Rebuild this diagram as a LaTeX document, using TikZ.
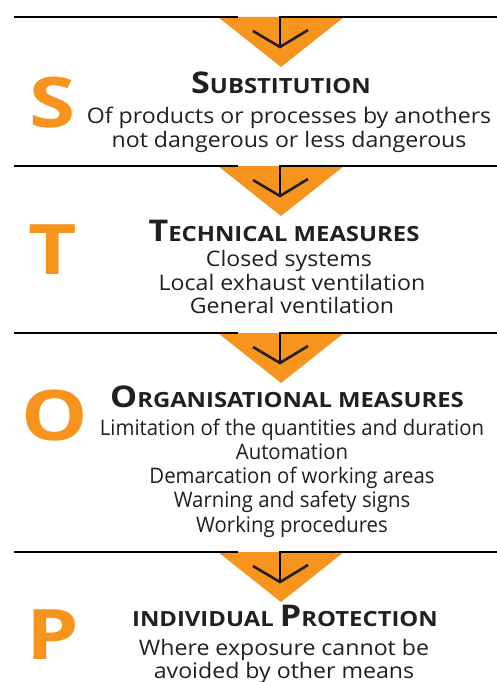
\documentclass[tikz,border=0pt]{standalone}
\usepackage{fontspec}
\setmainfont{Open Sans}
\newfontfamily\bodyfont[FakeStretch=1.08]{Open Sans}
\newfontfamily\obodyfont[FakeStretch=0.95]{Open Sans}
\newfontfamily\titlefont[FakeStretch=1.14]{Open Sans}
\newfontfamily\letterfont[FakeStretch=1.2]{Open Sans}
\definecolor{stoporange}{HTML}{F7941E}
\definecolor{stoptext}{HTML}{231F20}
\newcommand{\tcapbig}[1]{{\fontsize{30}{30}\selectfont #1}}
\newcommand{\tcapsmall}[1]{{\fontsize{21}{22}\selectfont #1}}
\tikzset{
  bodyline/.style={anchor=base, inner sep=0pt, text=stoptext, font=\bodyfont\fontsize{21.5}{23}\selectfont},
  obodyline/.style={anchor=base, inner sep=0pt, text=stoptext, font=\obodyfont\fontsize{21.5}{23}\selectfont},
  titleline/.style={anchor=base, inner sep=0pt, text=stoptext, font=\titlefont\bfseries},
  bigletter/.style={inner sep=0pt, text=stoporange, font=\letterfont\bfseries\fontsize{70}{70}\selectfont},
  rule/.style={line width=2.6bp, draw=black},
  chev/.style={line width=2.6bp, draw=stoptext},
  tri/.style={fill=stoporange, draw=none}
}
\begin{document}
\begin{tikzpicture}[x=1bp,y=-1bp]
\useasboundingbox (0,0) rectangle (497,682);
\fill[white] (0,0) rectangle (497,682);
% separators with arrows
\foreach \n/\y in {1/17,2/166,3/333,4/552}{
  \fill[tri] (218,\y) -- (344,\y) -- (281,\y+50) -- cycle;
  \coordinate (L\n a) at (14,\y);
  \coordinate (L\n b) at (238,\y);
  \coordinate (R\n a) at (497,\y);
  \coordinate (S\n) at (280,\y);
  \coordinate (T\n) at (280,\y+30);
  \coordinate (CL\n) at (253,\y+14);
  \coordinate (CR\n) at (308,\y+13);
  \draw[rule] (L\n a) -- (L\n b);
  \draw[rule] (R\n a) -- (S\n) -- (T\n);
  \draw[chev] (CL\n) -- (T\n) -- (CR\n);
}
% big letters
\node[bigletter] (bigS) at (53,103) {S};
\node[bigletter] (bigT) at (53,250) {T};
\node[bigletter] (bigO) at (55,416) {O};
\node[bigletter] (bigP) at (53,635) {P};
% S section
\node[titleline] (tS) at (281,94) {\tcapbig{S}\tcapsmall{UBSTITUTION}};
\node[bodyline] (s1) at (289,124) {Of products or processes by anothers};
\node[bodyline] (s2) at (289,147) {not dangerous or less dangerous};
% T section
\node[titleline] (tT) at (284,241) {\tcapbig{T}\tcapsmall{ECHNICAL MEASURES}};
\node[bodyline] (t1) at (289,266) {Closed systems};
\node[bodyline] (t2) at (292,290) {Local exhaust ventilation};
\node[bodyline] (t3) at (292,313) {General ventilation};
% O section
\node[titleline] (tO) at (287,407) {\tcapbig{O}\tcapsmall{RGANISATIONAL MEASURES}};
\node[obodyline] (o1) at (292,435) {Limitation of the quantities and duration};
\node[obodyline] (o2) at (292,459) {Automation};
\node[obodyline] (o3) at (292,483) {Demarcation of working areas};
\node[obodyline] (o4) at (292,507) {Warning and safety signs};
\node[obodyline] (o5) at (292,532) {Working procedures};
% P section
\node[titleline] (tP) at (285,626) {\tcapsmall{INDIVIDUAL }\tcapbig{P}\tcapsmall{ROTECTION}};
\node[bodyline] (p1) at (284,655) {Where exposure cannot be};
\node[bodyline] (p2) at (284,678) {avoided by other means};
\end{tikzpicture}
\end{document}
